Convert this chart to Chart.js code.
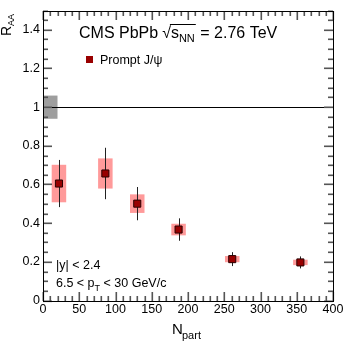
<!DOCTYPE html>
<html>
<head>
<meta charset="utf-8">
<script src="https://cdn.jsdelivr.net/npm/chart.js@4/dist/chart.umd.min.js"></script>
<style>
	html, body { margin: 0; padding: 0; background: #fff; }
	#wrap { position: relative; width: 357px; height: 343px; }
</style>
</head>
<body>
<div id="wrap"><canvas id="raaChart"></canvas></div>
<script>
// Prompt J/psi R_AA vs N_part.
var npart = [22, 86, 130, 187, 261, 355];
var raa = [0.605, 0.657, 0.501, 0.367, 0.214, 0.197];
var statErr = [0.122, 0.133, 0.086, 0.058, 0.036, 0.031];
var systErr = [0.097, 0.078, 0.048, 0.030, 0.016, 0.014];
var systHalfWidth = 10;
var globalUnc = 0.06;
var globalBoxWidth = 20;
var xTicks = [0, 50, 100, 150, 200, 250, 300, 350, 400];
var yTicks = [0, 0.2, 0.4, 0.6, 0.8, 1, 1.2, 1.4];

var FONT = '"Liberation Sans", Arial, Helvetica, sans-serif';

function px(n) { return Math.round(n) + 0.5; }

// Boxes, error bars and the unity line under the markers.
var errorPlugin = {
	id: 'errors',
	beforeDatasetsDraw: function(chart) {
		var ctx = chart.ctx, x = chart.scales.x, y = chart.scales.y;
		ctx.save();

		// global uncertainty box at unity
		ctx.fillStyle = '#9e9e9e';
		var gx0 = x.getPixelForValue(0), gx1 = x.getPixelForValue(globalBoxWidth);
		var gy0 = y.getPixelForValue(1 + globalUnc), gy1 = y.getPixelForValue(1 - globalUnc);
		ctx.fillRect(gx0, gy0, gx1 - gx0, gy1 - gy0);

		ctx.strokeStyle = '#000';
		ctx.lineWidth = 1;
		ctx.beginPath();
		ctx.moveTo(x.getPixelForValue(0), px(y.getPixelForValue(1)));
		ctx.lineTo(x.getPixelForValue(400), px(y.getPixelForValue(1)));
		ctx.stroke();

		// systematic boxes
		ctx.fillStyle = '#ff9a9a';
		for (var i = 0; i < npart.length; i++) {
			var bx0 = x.getPixelForValue(npart[i] - systHalfWidth);
			var bx1 = x.getPixelForValue(npart[i] + systHalfWidth);
			var by0 = y.getPixelForValue(raa[i] + systErr[i]);
			var by1 = y.getPixelForValue(raa[i] - systErr[i]);
			ctx.fillRect(bx0, by0, bx1 - bx0, by1 - by0);
		}

		// statistical error bars
		ctx.strokeStyle = '#222';
		ctx.beginPath();
		for (var j = 0; j < npart.length; j++) {
			var cx = px(x.getPixelForValue(npart[j]));
			ctx.moveTo(cx, y.getPixelForValue(raa[j] + statErr[j]));
			ctx.lineTo(cx, y.getPixelForValue(raa[j] - statErr[j]));
		}
		ctx.stroke();
		ctx.restore();
	},
	afterDraw: function(chart) {
		var ctx = chart.ctx, a = chart.chartArea, x = chart.scales.x, y = chart.scales.y;
		var L = Math.round(a.left), R = Math.round(a.right), T = Math.round(a.top), B = Math.round(a.bottom);
		ctx.save();

		// inner ticks on all four sides
		ctx.fillStyle = '#555';
		var v, p, len;
		for (v = 0; v <= 400; v += 10) {
			p = Math.round(x.getPixelForValue(v));
			len = (v % 50 === 0) ? 9 : 5;
			ctx.fillRect(p - 0.5, B - len, 1.6, len);
			ctx.fillRect(p - 0.5, T, 1.6, len);
		}
		for (var k = 0; k <= 30; k++) {
			p = Math.round(y.getPixelForValue(k * 0.05));
			len = (k % 4 === 0) ? 9 : 5;
			ctx.fillRect(L, p - 0.5, len, 1.6);
			ctx.fillRect(R - len, p - 0.5, len, 1.6);
		}

		// frame
		ctx.strokeStyle = '#000';
		ctx.lineWidth = 1;
		ctx.strokeRect(L + 0.5, T + 0.5, R - L, B - T);

		ctx.fillStyle = '#000';
		ctx.textBaseline = 'alphabetic';
		ctx.textAlign = 'left';

		// title with sqrt(s_NN)
		ctx.font = '16px ' + FONT;
		var tx = 79, ty = 38;
		ctx.fillText('CMS PbPb', tx, ty);
		tx += ctx.measureText('CMS PbPb').width + 4;
		ctx.fillText('\u221A', tx, ty);
		tx += ctx.measureText('\u221A').width;
		var barStart = tx;
		ctx.fillText('s', tx, ty);
		tx += ctx.measureText('s').width;
		ctx.font = '11px ' + FONT;
		ctx.fillText('NN', tx, ty + 4);
		tx += ctx.measureText('NN').width + 1;
		ctx.beginPath();
		ctx.moveTo(barStart - 1, 24.5); ctx.lineTo(tx, 24.5);
		ctx.stroke();
		ctx.font = '16px ' + FONT;
		ctx.fillText(' = 2.76 TeV', tx, ty);

		// legend
		ctx.fillStyle = '#990000';
		ctx.fillRect(86, 56, 7, 7);
		ctx.fillStyle = '#000';
		ctx.font = '12.5px ' + FONT;
		ctx.fillText('Prompt J/\u03C8', 100, 64);

		// cuts
		ctx.fillText('|y| < 2.4', 56, 269);
		var cx = 56;
		ctx.fillText('6.5 < p', cx, 287);
		cx += ctx.measureText('6.5 < p').width;
		ctx.font = '9px ' + FONT;
		ctx.fillText('T', cx, 291);
		cx += ctx.measureText('T').width;
		ctx.font = '12.5px ' + FONT;
		ctx.fillText(' < 30 GeV/c', cx, 287);

		// x title
		ctx.font = '15px ' + FONT;
		ctx.fillText('N', 172, 334);
		ctx.font = '11px ' + FONT;
		ctx.fillText('part', 182, 339);

		// y title, rotated
		ctx.translate(11, 36);
		ctx.rotate(-Math.PI / 2);
		ctx.font = '14px ' + FONT;
		ctx.fillText('R', 0, 0);
		var rw = ctx.measureText('R').width;
		ctx.font = '9px ' + FONT;
		ctx.fillText('AA', rw, 3);
		ctx.restore();
	}
};

new Chart(document.getElementById('raaChart'), {
	type: 'scatter',
	data: {
		datasets: [{
			label: 'Prompt J/\u03C8',
			data: npart.map(function(n, i) { return { x: n, y: raa[i] }; }),
			pointStyle: 'rect',
			pointRadius: 5,
			pointHoverRadius: 5,
			backgroundColor: '#990000',
			borderColor: '#2a0000',
			borderWidth: 1
		}]
	},
	options: {
		responsive: true,
		maintainAspectRatio: false,
		animation: false,
		devicePixelRatio: 1,
		layout: { padding: { top: 10, right: 24, left: 0, bottom: 0 } },
		plugins: {
			legend: { display: false },
			tooltip: { enabled: false }
		},
		scales: {
			x: {
				type: 'linear',
				min: 0,
				max: 400,
				grid: { display: false, drawTicks: false, tickLength: 0 },
				border: { display: false },
				afterBuildTicks: function(s) { s.ticks = xTicks.map(function(v) { return { value: v }; }); },
				afterFit: function(s) { s.height = 42.5; },
				ticks: {
					color: '#000',
					padding: 2,
					maxRotation: 0,
					font: { family: FONT, size: 12.5 }
				}
			},
			y: {
				type: 'linear',
				min: 0,
				max: 1.5,
				grid: { display: false, drawTicks: false, tickLength: 0 },
				border: { display: false },
				afterBuildTicks: function(s) { s.ticks = yTicks.map(function(v) { return { value: v }; }); },
				afterFit: function(s) { s.width = 43; },
				ticks: {
					color: '#000',
					padding: 3,
					font: { family: FONT, size: 12.5 },
					callback: function(v) { return String(Math.round(v * 10) / 10); }
				}
			}
		}
	},
	plugins: [errorPlugin]
});
</script>
</body>
</html>
